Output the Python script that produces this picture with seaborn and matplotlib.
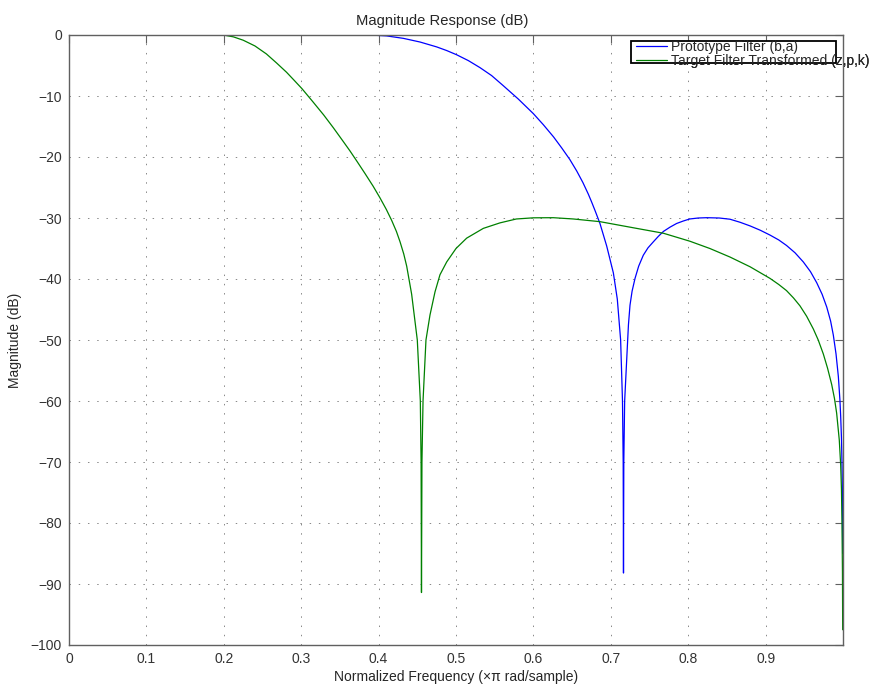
import numpy as np
import pandas as pd
import matplotlib
matplotlib.use("Agg")
import matplotlib.pyplot as plt
from matplotlib.patches import Rectangle
import seaborn as sns

# values
proto_x = [0.0, 0.1, 0.2, 0.3, 0.389, 0.4104, 0.432, 0.4535, 0.475, 0.488, 0.501,
           0.516, 0.531, 0.546, 0.561, 0.5805, 0.600, 0.6128, 0.626, 0.6365, 0.647,
           0.656, 0.664, 0.671, 0.6753, 0.680, 0.686, 0.6947, 0.7033, 0.7084, 0.7127,
           0.7151, 0.7160, 0.7164, 0.7168, 0.7179, 0.7218, 0.7228, 0.7248, 0.7275,
           0.7313, 0.7360, 0.742, 0.748, 0.755, 0.7615, 0.768, 0.7765, 0.785, 0.7935,
           0.802, 0.813, 0.824, 0.840, 0.854, 0.867, 0.880, 0.893, 0.9057, 0.917,
           0.927, 0.938, 0.9487, 0.958, 0.966, 0.973, 0.979, 0.984, 0.9875, 0.991,
           0.994, 0.996, 0.997, 0.998, 0.9987, 0.9993, 0.9996]
proto_db = [0, 0, 0, 0, 0, -0.15, -0.55, -1.15, -1.95, -2.55, -3.25,
            -4.2, -5.35, -6.65, -8.3, -10.5, -12.9, -14.7, -16.7, -18.5, -20.4,
            -22.3, -24.2, -26.1, -27.4, -28.9, -30.9, -34.6, -39.0, -43.3, -50.0,
            -60.0, -70.0, -88.2, -70.0, -60.0, -50.0, -47.5, -44.3, -42.0,
            -39.9, -37.9, -36.1, -34.9, -33.9, -33.0, -32.2, -31.5, -30.9, -30.5,
            -30.16, -30.0, -29.95, -30.0, -30.2, -30.7, -31.3, -32.0, -32.8, -33.6,
            -34.5, -35.7, -37.2, -38.8, -40.6, -42.5, -44.6, -46.9, -49.2, -52.3,
            -56.0, -59.8, -62.5, -66.0, -70.0, -76.0, -85.0]

target_x = [0.0, 0.1, 0.199, 0.2123, 0.225, 0.2403, 0.255, 0.2683, 0.281, 0.2907,
            0.301, 0.3148, 0.329, 0.3415, 0.354, 0.363, 0.372, 0.3824, 0.393, 0.4018,
            0.410, 0.4169, 0.423, 0.4277, 0.4325, 0.4363, 0.4427, 0.450, 0.4539,
            0.4549, 0.4554, 0.4560, 0.4574, 0.4612, 0.4664, 0.4729, 0.4793, 0.488,
            0.500, 0.5138, 0.5353, 0.5568, 0.578, 0.600, 0.6257, 0.6516, 0.686, 0.729,
            0.768, 0.802, 0.828, 0.854, 0.880, 0.9057, 0.917, 0.927, 0.936, 0.9444,
            0.953, 0.9617, 0.968, 0.9746, 0.980, 0.9854, 0.989, 0.9918, 0.9952, 0.997,
            0.998, 0.9987, 0.9993, 0.9996]
target_db = [0, 0, 0, -0.3, -0.85, -1.8, -3.1, -4.6, -6.1, -7.4,
             -8.8, -10.9, -13.1, -15.2, -17.4, -19.0, -20.7, -22.7, -24.8, -26.7,
             -28.6, -30.4, -32.2, -33.9, -35.9, -37.9, -42.5, -50.0, -60.0,
             -70.0, -91.4, -70.0, -60.0, -50.0, -45.9, -42.1, -39.3, -37.2,
             -35.0, -33.3, -31.7, -30.8, -30.16, -29.97, -29.95, -30.16, -30.6, -31.6,
             -32.5, -33.8, -35.0, -36.4, -38.0, -39.9, -40.9, -41.9, -43.1, -44.4,
             -46.1, -48.2, -50.0, -52.3, -54.6, -57.3, -59.6, -62.0, -66.4, -70.5,
             -74.5, -80.0, -88.0, -97.5]

series_names = ["Prototype Filter (b,a)", "Target Filter Transformed (z,p,k)"]
x_ticks = [0, 0.1, 0.2, 0.3, 0.4, 0.5, 0.6, 0.7, 0.8, 0.9]
x_tick_labels = ["0", "0.1", "0.2", "0.3", "0.4", "0.5", "0.6", "0.7", "0.8", "0.9"]
y_ticks = [-100, -90, -80, -70, -60, -50, -40, -30, -20, -10, 0]
y_tick_labels = ["\u2212100", "\u221290", "\u221280", "\u221270", "\u221260", "\u221250",
                 "\u221240", "\u221230", "\u221220", "\u221210", "0"]

df = pd.concat([
    pd.DataFrame({"freq": proto_x, "mag": proto_db, "filter": series_names[0]}),
    pd.DataFrame({"freq": target_x, "mag": target_db, "filter": series_names[1]}),
], ignore_index=True)

sns.set_theme(style="white")
plt.rcParams["font.family"] = ["Liberation Sans", "DejaVu Sans"]

fig = plt.figure(figsize=(8.77, 6.85), dpi=100)
W, H = 877, 685
ax = fig.add_axes([69 / W, 1 - 645 / H, (843 - 69) / W, (645 - 35) / H])

palette = {series_names[0]: "#0000ff", series_names[1]: "#008000"}
sns.lineplot(data=df, x="freq", y="mag", hue="filter", palette=palette,
             estimator=None, sort=False, linewidth=0.9, ax=ax, legend=False)

ax.set_xlim(0, 1)
ax.set_ylim(-100, 0)
ax.set_xticks(x_ticks)
ax.set_xticklabels(x_tick_labels)
ax.set_yticks(y_ticks)
ax.set_yticklabels(y_tick_labels)
ax.grid(True, linestyle=(0, (1.5, 8)), linewidth=0.7, color="#888888")
ax.tick_params(direction="in", length=6, width=0.8, color="#606060",
               top=True, right=True, labelsize=10, labelcolor="#333333", pad=5)
for s in ax.spines.values():
    s.set_color("#606060")
    s.set_linewidth(1.0)

ax.set_title("Magnitude Response (dB)", fontsize=10.6, pad=7, x=(442.5 - 69) / 774)
ax.set_xlabel("Normalized Frequency (\u00d7\u03c0 rad/sample)", fontsize=10, labelpad=3)
ax.set_ylabel("Magnitude (dB)", fontsize=10, labelpad=6)

# legend: the box is narrower than the second label, as in the reference
handles = ax.get_lines()[:2]
leg = ax.legend(handles, series_names, loc="upper left",
                bbox_to_anchor=(636 / W, 1 - 40 / H), bbox_transform=fig.transFigure,
                frameon=False, fontsize=10, borderpad=0, borderaxespad=0,
                handlelength=2.2, handletextpad=0.3, labelspacing=0)
fig.add_artist(Rectangle((631 / W, 1 - 63 / H), (836 - 631) / W, (63 - 41) / H,
                         transform=fig.transFigure, fill=True, facecolor="white",
                         edgecolor="black", linewidth=1.3, zorder=2))
leg.set_zorder(5)
fig.add_artist(leg)

fig.savefig("out.png", dpi=100)
